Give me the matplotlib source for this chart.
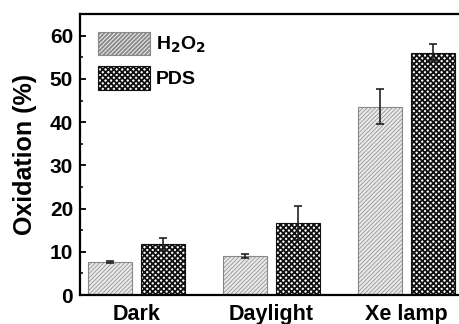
import matplotlib
matplotlib.use('Agg')
import matplotlib.pyplot as plt
import numpy as np
from matplotlib.ticker import MultipleLocator

plt.rcParams['font.family'] = ['Liberation Sans', 'DejaVu Sans']
plt.rcParams['font.weight'] = 'bold'
plt.rcParams['mathtext.default'] = 'bf'

categories = ['Dark', 'Daylight', 'Xe lamp']
h2o2 = [7.6, 9.0, 43.6]
h2o2_err = [0.3, 0.5, 4.0]
pds = [11.8, 16.6, 56.1]
pds_err = [1.4, 3.9, 2.0]

fig = plt.figure(figsize=(4.59, 3.24), dpi=100)
ax = fig.add_axes([0.1743, 0.0895, 0.834, 0.867])

x = np.arange(len(categories))
w = 0.326
off = 0.196
ekw = dict(ecolor='#222222', elinewidth=1.2, capsize=3, capthick=1.2)

plt.rcParams['hatch.linewidth'] = 0.5
plt.rcParams['hatch.color'] = '#7a7a7a'
ax.bar(x - off, h2o2, w, yerr=h2o2_err, color='#e8e8e8', edgecolor='#888888',
       hatch='////////', linewidth=0.8, label='H$_2$O$_2$', error_kw=ekw)
plt.rcParams['hatch.linewidth'] = 1.3
plt.rcParams['hatch.color'] = '#111111'
ax.bar(x + off, pds, w, yerr=pds_err, color='white', edgecolor='#111111',
       hatch='xxxxxx', linewidth=0.8, label='PDS', error_kw=ekw)

ax.set_xlim(-0.42, 2.42)
ax.set_ylim(0, 65)
ax.set_xticks(x)
ax.set_xticklabels(categories, fontsize=15.5, fontweight='bold')
ax.tick_params(axis='x', length=0, pad=6.5)
ax.yaxis.set_major_locator(MultipleLocator(10))
ax.yaxis.set_minor_locator(MultipleLocator(5))
ax.tick_params(axis='y', which='major', direction='in', length=4, width=1.3,
               labelsize=15, pad=5)
ax.tick_params(axis='y', which='minor', direction='in', length=2.5, width=1.1)
for lab in ax.get_yticklabels():
    lab.set_fontweight('bold')
ax.set_ylabel('Oxidation (%)', fontsize=18, fontweight='bold', labelpad=9)

for s in ax.spines.values():
    s.set_linewidth(1.6)

leg = ax.legend(loc='upper left', frameon=False,
                handlelength=2.7, handleheight=1.5, handletextpad=0.3,
                labelspacing=0.55, borderaxespad=0.5, borderpad=0.4,
                prop={'weight': 'bold', 'size': 14})

fig.savefig('out.png', dpi=100)
